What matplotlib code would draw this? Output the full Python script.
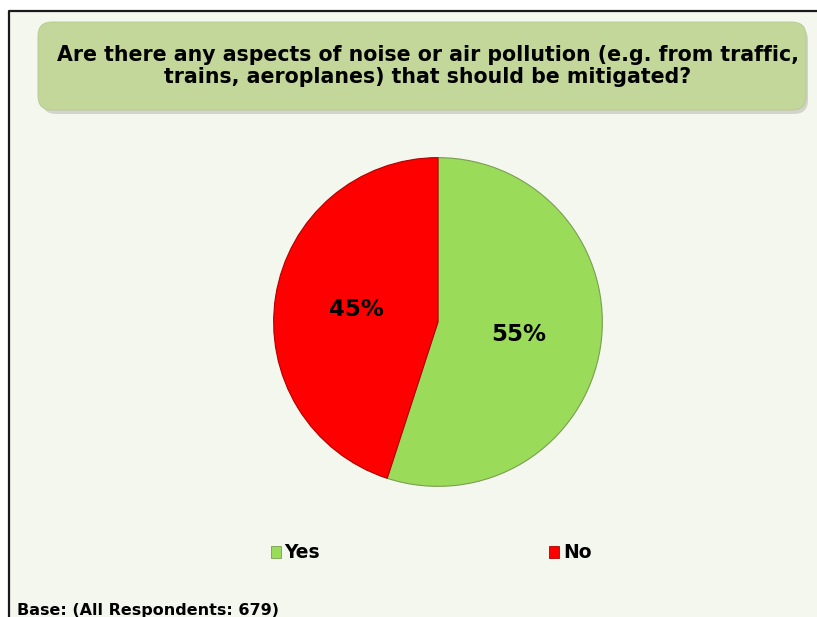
import matplotlib.pyplot as plt
from matplotlib.patches import FancyBboxPatch, Patch
from matplotlib.lines import Line2D

# survey answers
answers = ['Yes', 'No']
shares = [55, 45]
slice_colors = ['#9BDB5A', '#FF0000']
edge_colors = ['#7A9E50', '#B00000']

question = ('Are there any aspects of noise or air pollution (e.g. from traffic,\n'
            'trains, aeroplanes) that should be mitigated?')
base_note = 'Base: (All Respondents: 679)'

W, H = 817, 617
fig = plt.figure(figsize=(W / 100, H / 100), dpi=100)
fig.patch.set_facecolor('white')

# full-figure canvas in pixel units for the frame, title box and note
bg = fig.add_axes([0, 0, 1, 1])
bg.set_xlim(0, W)
bg.set_ylim(H, 0)
bg.axis('off')
bg.add_patch(plt.Rectangle((9, 11), W, H, facecolor='#F4F7EE', edgecolor='none'))
bg.add_line(Line2D([9, 9, W], [H, 11, 11], color='#1a1a1a', lw=1.6))

# title box with a soft shadow
shadow = FancyBboxPatch((42, 26), 766, 88, boxstyle='round,pad=0,rounding_size=14',
                        facecolor='#A9A9A0', edgecolor='none', alpha=0.45)
bg.add_patch(shadow)
box = FancyBboxPatch((38, 22), 768, 88, boxstyle='round,pad=0,rounding_size=14',
                     facecolor='#C4D79B', edgecolor='#B5C98C', lw=0.6)
bg.add_patch(box)
bg.text(428, 66, question, ha='center', va='center', fontsize=14.8,
        fontweight='bold', color='black', linespacing=1.08)

bg.text(17, 603, base_note, ha='left', va='top', fontsize=11.5,
        fontweight='bold', color='black')

# pie
cx, cy, r = 438, 322, 166
ax = fig.add_axes([(cx - r) / W, (H - cy - r) / H, 2 * r / W, 2 * r / H])
wedges, _, pct = ax.pie(shares, colors=slice_colors, startangle=90, counterclock=False,
                        autopct='%d%%', pctdistance=0.5,
                        wedgeprops=dict(linewidth=0.8),
                        textprops=dict(fontsize=16.5, fontweight='bold', color='black'))
for w, ec in zip(wedges, edge_colors):
    w.set_edgecolor(ec)
ax.set_xlim(-1.01, 1.01)
ax.set_ylim(-1.01, 1.01)
ax.set_aspect('equal')

# legend
handles = [Patch(facecolor=c, edgecolor=e, lw=0.6) for c, e in zip(slice_colors, edge_colors)]
leg = fig.legend(handles, answers, loc='center', bbox_to_anchor=(431 / W, 1 - 553 / H),
                 ncol=2, frameon=False, handlelength=0.55, handleheight=0.55,
                 handletextpad=0.2, columnspacing=12.2,
                 prop=dict(size=13.5, weight='bold'))

fig.savefig('out.png', dpi=100)
